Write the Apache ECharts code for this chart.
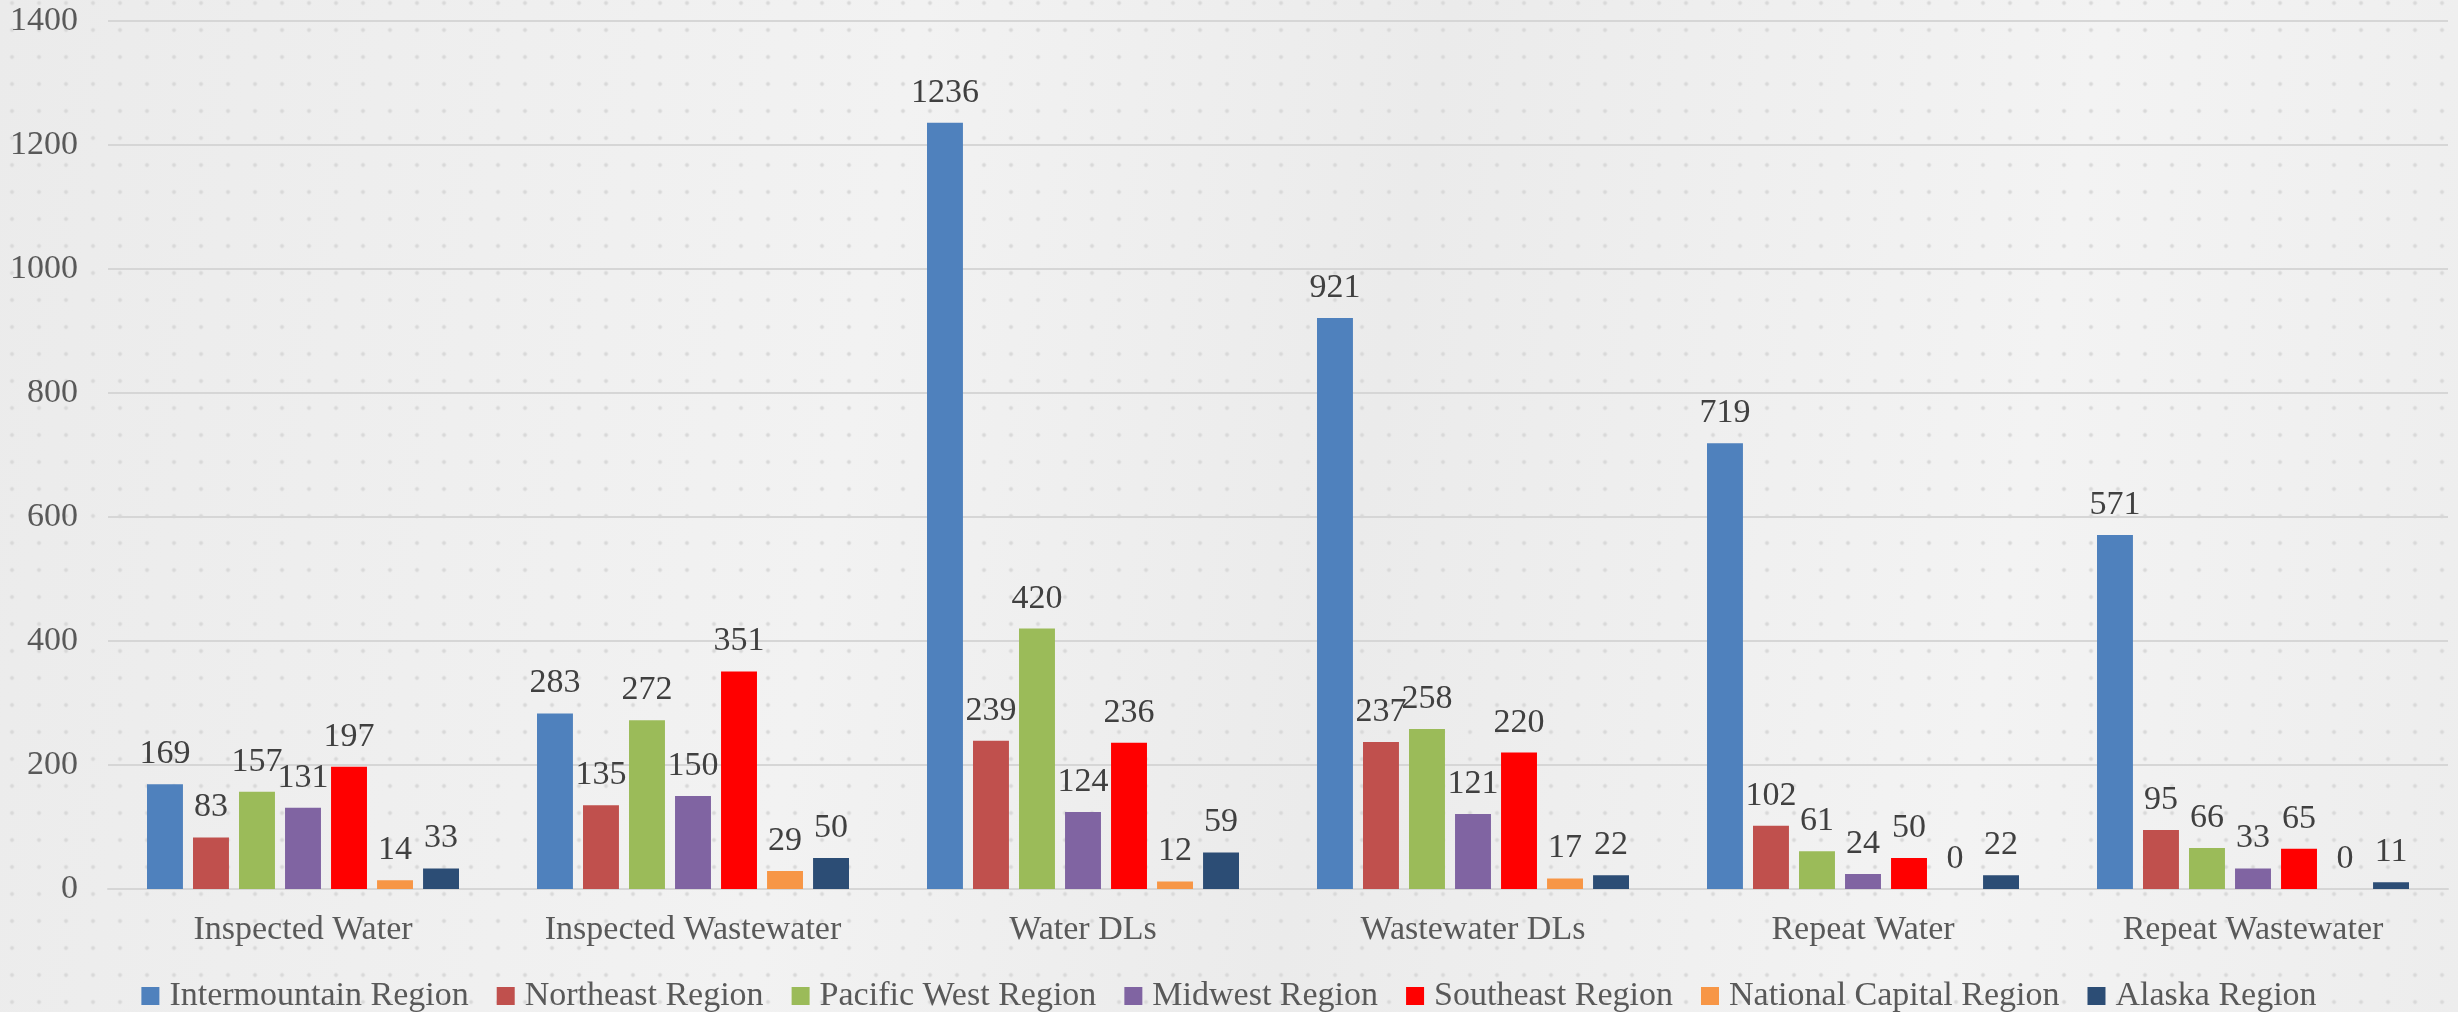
<!DOCTYPE html>
<html>
<head>
<meta charset="utf-8">
<script src="https://cdn.jsdelivr.net/npm/echarts@6/dist/echarts.min.js"></script>
<style>
  html, body { margin: 0; padding: 0; }
  #main {
    width: 2458px;
    height: 1012px;
    background-color: #eeeeee;
    background-image:
      radial-gradient(circle, #d9d9d9 1.6px, rgba(217,217,217,0) 2.4px),
      linear-gradient(100deg, #ebebeb 0%, #f2f2f2 35%, #ebebeb 55%, #f3f3f3 80%, #ededed 100%);
    background-size: 27px 27px, 100% 100%;
    background-position: -1.5px -10.5px, 0 0;
  }
</style>
</head>
<body>
<div id="main"></div>
<script>
// categories and values per region
const categories = [
  "Inspected Water",
  "Inspected Wastewater",
  "Water DLs",
  "Wastewater DLs",
  "Repeat Water",
  "Repeat Wastewater",
];

const intermountain = [169, 283, 1236, 921, 719, 571];
const northeast = [83, 135, 239, 237, 102, 95];
const pacificWest = [157, 272, 420, 258, 61, 66];
const midwest = [131, 150, 124, 121, 24, 33];
const southeast = [197, 351, 236, 220, 50, 65];
const nationalCapital = [14, 29, 12, 17, 0, 0];
const alaska = [33, 50, 59, 22, 22, 11];

const regionNames = [
  "Intermountain Region",
  "Northeast Region",
  "Pacific West Region",
  "Midwest Region",
  "Southeast Region",
  "National Capital Region",
  "Alaska Region",
];
const regionValues = [
  intermountain,
  northeast,
  pacificWest,
  midwest,
  southeast,
  nationalCapital,
  alaska,
];
const colors = [
  "#4f81bd",
  "#c0504d",
  "#9bbb59",
  "#8064a2",
  "#ff0000",
  "#f79646",
  "#2c4d75",
];

const font = "Liberation Serif";

var myChart = echarts.init(document.getElementById("main"));

var option = {
  animation: false,
  color: colors,
  textStyle: { fontFamily: font },
  grid: {
    left: 108,
    right: 10,
    top: 21,
    bottom: 123,
  },
  legend: {
    data: regionNames,
    top: 974,
    left: "center",
    icon: "rect",
    itemWidth: 18,
    itemHeight: 18,
    itemGap: 28,
    textStyle: {
      fontFamily: font,
      fontSize: 34,
      color: "#595959",
      padding: [0, 0, 0, 5],
    },
  },
  xAxis: {
    type: "category",
    data: categories,
    axisTick: { show: false },
    axisLine: { lineStyle: { color: "#d6d6d6", width: 2 } },
    axisLabel: {
      margin: 24,
      fontFamily: font,
      fontSize: 34,
      color: "#595959",
    },
  },
  yAxis: {
    type: "value",
    min: 0,
    max: 1400,
    interval: 200,
    axisLine: { show: false },
    axisTick: { show: false },
    splitLine: { lineStyle: { color: "#d6d6d6", width: 2 } },
    axisLabel: {
      margin: 30,
      fontFamily: font,
      fontSize: 34,
      color: "#595959",
      formatter: function (v) {
        return String(v);
      },
    },
  },
  series: regionNames.map(function (name, i) {
    return {
      name: name,
      type: "bar",
      data: regionValues[i],
      barGap: "28%",
      barCategoryGap: "20%",
      label: {
        show: true,
        position: "top",
        distance: 13,
        fontFamily: font,
        fontSize: 34,
        color: "#404040",
      },
    };
  }),
};

myChart.setOption(option);
</script>
</body>
</html>
